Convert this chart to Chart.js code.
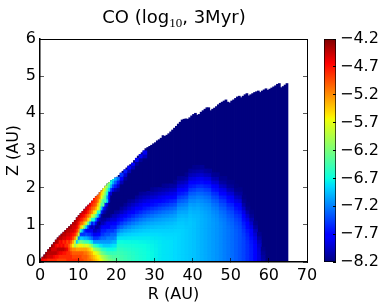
<!DOCTYPE html>
<html>
<head>
<meta charset="utf-8">
<style>
  html, body { margin: 0; padding: 0; background: #fff; overflow: hidden; }
  #wrap { position: relative; width: 382px; height: 308px; }
  #mapCanvas { position: absolute; left: 0; top: 0; }
  #barCanvas { position: absolute; left: 312px; top: 0; }
  #title {
    position: absolute; left: 0; top: 7px; width: 348px; text-align: center;
    font: 18px/20px "DejaVu Sans"; color: #000;
  }
  #title sub {
    font: 13px/13px "Liberation Serif"; vertical-align: baseline;
    position: relative; top: 4px;
  }
</style>
</head>
<body>
<div id="wrap">
  <canvas id="mapCanvas" width="382" height="308"></canvas>
  <canvas id="barCanvas" width="70" height="308"></canvas>
  <div id="title">CO (log<sub>10</sub>, 3Myr)</div>
</div>
<script src="https://cdn.jsdelivr.net/npm/chart.js@4"></script>
<script>
// axis ticks
const rTicks = [0, 10, 20, 30, 40, 50, 60, 70];
const zTicks = [0, 1, 2, 3, 4, 5, 6];
const colorbarTicks = [-8.2, -7.7, -7.2, -6.7, -6.2, -5.7, -5.2, -4.7, -4.2];

// top of the filled disc (AU), one height per 0.5 AU column from R = 0 to 65
const discTop = [
  0.07, 0.13, 0.19, 0.26, 0.33, 0.39, 0.46, 0.52, 0.59, 0.65,
  0.70, 0.75, 0.80, 0.85, 0.90, 0.95, 1.00, 1.06, 1.12, 1.19,
  1.25, 1.31, 1.36, 1.42, 1.48, 1.53, 1.58, 1.64, 1.71, 1.76,
  1.80, 1.87, 1.92, 1.98, 2.04, 2.10, 2.14, 2.19, 2.22, 2.26,
  2.28, 2.33, 2.39, 2.44, 2.48, 2.53, 2.58, 2.62, 2.66, 2.73,
  2.79, 2.85, 2.89, 2.94, 2.99, 3.05, 3.08, 3.11, 3.14, 3.18,
  3.21, 3.26, 3.29, 3.33, 3.40, 3.38, 3.41, 3.45, 3.50, 3.55,
  3.60, 3.65, 3.71, 3.76, 3.82, 3.84, 3.85, 3.84, 3.88, 3.93,
  3.97, 4.00, 3.95, 3.97, 4.03, 4.07, 4.11, 4.15, 4.15, 4.07,
  4.11, 4.14, 4.18, 4.23, 4.27, 4.30, 4.33, 4.36, 4.30, 4.28,
  4.33, 4.36, 4.40, 4.44, 4.46, 4.42, 4.46, 4.50, 4.53, 4.47,
  4.50, 4.53, 4.56, 4.58, 4.60, 4.56, 4.60, 4.63, 4.66, 4.62,
  4.65, 4.68, 4.71, 4.74, 4.78, 4.80, 4.69, 4.72, 4.76, 4.80
];

// log10 CO for R = 0 to 20, columns 0.5 AU wide, each listed upward from z = 0 in 0.1 AU cells
const innerColumns = [
  [-4.5],
  [-4.6, -4.4],
  [-4.7, -4.3],
  [-4.7, -4.4, -4.3],
  [-4.8, -4.5, -4.4, -4.3],
  [-4.8, -4.5, -4.4, -4.3],
  [-4.8, -4.5, -4.4, -4.5, -4.3],
  [-4.8, -4.6, -4.4, -4.5, -4.4, -4.3],
  [-4.8, -4.7, -4.4, -4.5, -4.6, -4.35],
  [-4.9, -4.7, -4.5, -4.4, -4.7, -4.4, -4.3],
  [-4.9, -4.8, -4.6, -4.4, -4.6, -4.7, -4.4, -4.3],
  [-4.9, -4.8, -4.6, -4.4, -4.7, -4.6, -4.4, -4.3],
  [-4.9, -4.8, -4.7, -4.4, -4.6, -4.8, -4.5, -4.4, -4.3],
  [-4.9, -4.8, -4.7, -4.5, -4.8, -4.7, -4.5, -4.4, -4.3],
  [-4.8, -4.8, -4.8, -4.6, -4.8, -4.9, -4.6, -4.5, -4.4, -4.3],
  [-4.8, -4.8, -4.8, -4.9, -5.0, -4.8, -4.6, -4.5, -4.4, -4.3],
  [-4.8, -4.8, -4.9, -5.1, -5.3, -5.0, -4.7, -4.6, -4.5, -4.4, -4.35],
  [-4.8, -4.9, -5.0, -5.2, -5.6, -5.3, -4.9, -4.7, -4.5, -4.5, -4.4, -4.3],
  [-4.8, -4.9, -5.0, -5.2, -6.0, -5.8, -5.2, -4.8, -4.6, -4.5, -4.4, -4.3],
  [-4.8, -4.9, -5.0, -5.3, -5.8, -6.9, -5.9, -5.1, -4.8, -4.6, -4.5, -4.4, -4.3],
  [-4.8, -4.9, -5.0, -5.3, -5.7, -6.4, -7.2, -5.9, -5.2, -4.9, -4.7, -4.5, -4.4, -4.3],
  [-4.9, -4.9, -5.0, -5.3, -5.6, -6.2, -6.9, -7.5, -6.5, -5.4, -5.0, -4.7, -4.5, -4.4],
  [-4.9, -5.0, -5.0, -5.3, -5.7, -6.3, -6.9, -7.5, -7.0, -5.7, -5.1, -4.8, -4.6, -4.5, -4.4],
  [-5.0, -5.0, -5.1, -5.3, -5.8, -6.4, -7.0, -7.5, -7.5, -6.3, -5.4, -5.0, -4.7, -4.5, -4.4],
  [-5.0, -5.0, -5.1, -5.3, -5.7, -6.5, -7.0, -7.4, -7.7, -6.9, -5.8, -5.1, -4.9, -4.6, -4.5, -4.4],
  [-5.1, -5.1, -5.2, -5.4, -5.8, -6.5, -7.1, -7.5, -7.8, -7.5, -6.4, -5.5, -5.1, -4.8, -4.6, -4.5],
  [-5.1, -5.2, -5.3, -5.5, -6.0, -6.7, -7.2, -7.5, -7.8, -7.9, -7.1, -6.0, -5.3, -5.0, -4.8, -4.6, -4.5],
  [-5.2, -5.3, -5.4, -5.7, -6.2, -6.8, -7.3, -7.6, -7.8, -8.0, -7.6, -6.6, -5.8, -5.2, -5.0, -4.8, -4.7, -4.6],
  [-5.3, -5.4, -5.6, -6.0, -6.5, -7.1, -7.5, -7.8, -8.0, -7.9, -7.4, -6.7, -6.0, -5.5, -5.1, -4.9, -4.8, -4.7],
  [-5.4, -5.5, -5.7, -6.1, -6.6, -7.1, -7.5, -7.8, -8.0, -8.1, -7.8, -7.2, -6.4, -5.7, -5.3, -5.0, -4.9, -4.9],
  [-5.5, -5.6, -5.8, -6.2, -6.7, -7.1, -7.5, -7.7, -7.9, -8.1, -8.1, -7.7, -6.9, -6.6, -5.6, -5.4, -5.1, -5.0, -4.9],
  [-5.6, -5.7, -6.0, -6.3, -6.8, -7.1, -7.4, -7.7, -7.9, -8.0, -8.2, -8.0, -7.5, -6.6, -6.0, -5.8, -5.5, -5.2, -5.1, -5.0],
  [-5.7, -5.9, -6.2, -6.5, -6.8, -7.1, -7.3, -7.5, -7.6, -7.8, -8.0, -8.1, -8.1, -7.6, -6.9, -6.4, -6.1, -5.7, -5.5, -5.3],
  [-5.9, -6.0, -6.3, -6.6, -6.9, -7.1, -7.3, -7.5, -7.6, -7.7, -8.0, -8.1, -8.2, -8.0, -7.6, -6.3, -6.5, -6.1, -5.8, -5.6, -5.5],
  [-6.0, -6.1, -6.4, -6.6, -6.9, -7.1, -7.3, -7.4, -7.6, -7.7, -7.9, -8.1, -8.2, -8.1, -7.9, -7.6, -6.4, -6.4, -6.2, -6.0, -5.8],
  [-6.1, -6.2, -6.5, -6.7, -6.9, -7.1, -7.2, -7.4, -7.5, -7.7, -7.8, -8.0, -8.2, -8.2, -8.1, -7.9, -6.9, -7.1, -6.7, -6.4, -6.1, -6.0],
  [-6.2, -6.3, -6.5, -6.7, -6.9, -7.1, -7.2, -7.4, -7.5, -7.7, -7.8, -8.0, -8.2, -8.2, -8.2, -8.2, -7.9, -7.7, -7.8, -6.9, -6.5, -6.1],
  [-6.25, -6.35, -6.5, -6.7, -6.85, -7.05, -7.2, -7.3, -7.5, -7.6, -7.8, -7.9, -8.1, -8.2, -8.2, -8.2, -8.2, -8.2, -7.9, -7.5, -7.0, -6.7, -6.4],
  [-6.3, -6.4, -6.5, -6.7, -6.8, -7.0, -7.2, -7.3, -7.5, -7.6, -7.7, -7.9, -8.0, -8.2, -8.2, -8.2, -8.2, -8.2, -8.2, -7.8, -7.4, -7.0, -6.7],
  [-6.35, -6.4, -6.5, -6.65, -6.8, -7.0, -7.15, -7.3, -7.4, -7.6, -7.7, -7.9, -8.0, -8.1, -8.2, -8.2, -8.2, -8.2, -8.2, -8.0, -7.6, -7.3, -7.0]
];

// log10 CO for R = 20 to 59, columns 1 AU wide, same order; anything above a column stays at the floor value
const outerColumns = [
  [-6.40, -6.42, -6.46, -6.52, -6.60, -6.70, -6.82, -7.00, -7.20, -7.40, -7.60, -7.78, -7.92, -8.08, -8.2, -8.2, -8.2, -8.2, -8.2, -8.1, -7.9, -7.6, -7.3],
  [-6.44, -6.46, -6.50, -6.55, -6.62, -6.70, -6.80, -6.94, -7.10, -7.30, -7.48, -7.66, -7.82, -7.98, -8.10, -8.2, -8.2, -8.2, -8.2, -8.2, -8.2, -8.0, -7.7, -7.5],
  [-6.48, -6.50, -6.53, -6.58, -6.64, -6.71, -6.80, -6.90, -7.04, -7.20, -7.38, -7.56, -7.72, -7.88, -8.02, -8.12, -8.2, -8.2, -8.2, -8.2, -8.2, -8.2, -8.1, -7.9, -7.6],
  [-6.52, -6.54, -6.56, -6.60, -6.65, -6.71, -6.79, -6.88, -7.00, -7.14, -7.30, -7.47, -7.63, -7.79, -7.92, -8.03, -8.12, -8.2, -8.2, -8.2, -8.2, -8.2, -8.2, -8.2, -8.0, -7.7],
  [-6.56, -6.57, -6.59, -6.62, -6.66, -6.72, -6.78, -6.86, -6.96, -7.08, -7.23, -7.39, -7.55, -7.70, -7.84, -7.96, -8.08, -8.2, -8.2, -8.2, -8.2, -8.2, -8.2, -8.2, -8.2, -8.0, -7.7],
  [-6.60, -6.61, -6.62, -6.64, -6.68, -6.72, -6.78, -6.85, -6.94, -7.04, -7.17, -7.32, -7.47, -7.62, -7.76, -7.89, -8.00, -8.10, -8.2, -8.2, -8.2, -8.2, -8.2, -8.2, -8.2, -8.2, -8.1, -7.8],
  [-6.63, -6.64, -6.65, -6.66, -6.69, -6.73, -6.78, -6.84, -6.92, -7.01, -7.12, -7.25, -7.40, -7.55, -7.69, -7.82, -7.94, -8.04, -8.12, -8.2, -8.2, -8.2, -8.2, -8.2, -8.2, -8.2, -8.2, -8.1, -7.8],
  [-6.66, -6.66, -6.67, -6.68, -6.70, -6.74, -6.78, -6.83, -6.90, -6.98, -7.08, -7.20, -7.34, -7.48, -7.62, -7.76, -7.88, -7.99, -8.09, -8.2, -8.2, -8.2, -8.2, -8.2, -8.2, -8.2, -8.2, -8.2, -8.0, -7.8],
  [-6.70, -6.70, -6.70, -6.71, -6.72, -6.75, -6.78, -6.83, -6.89, -6.96, -7.05, -7.16, -7.29, -7.43, -7.57, -7.71, -7.84, -7.96, -8.07],
  [-6.72, -6.72, -6.72, -6.73, -6.74, -6.76, -6.79, -6.83, -6.88, -6.95, -7.03, -7.13, -7.25, -7.38, -7.52, -7.66, -7.79, -7.92, -8.03, -8.13],
  [-6.75, -6.75, -6.75, -6.75, -6.76, -6.77, -6.80, -6.83, -6.88, -6.94, -7.01, -7.10, -7.21, -7.34, -7.48, -7.62, -7.76, -7.89, -8.00, -8.10],
  [-6.78, -6.78, -6.78, -6.78, -6.78, -6.79, -6.81, -6.84, -6.88, -6.93, -7.00, -7.08, -7.18, -7.30, -7.43, -7.57, -7.71, -7.84, -7.96, -8.07],
  [-6.80, -6.80, -6.80, -6.80, -6.80, -6.81, -6.82, -6.85, -6.88, -6.93, -6.99, -7.06, -7.15, -7.26, -7.39, -7.53, -7.67, -7.80, -7.93, -8.04, -8.13],
  [-6.81, -6.81, -6.81, -6.81, -6.81, -6.81, -6.83, -6.85, -6.88, -6.92, -6.97, -7.04, -7.13, -7.23, -7.35, -7.49, -7.63, -7.76, -7.89, -8.01, -8.11],
  [-6.82, -6.82, -6.82, -6.82, -6.82, -6.82, -6.83, -6.85, -6.88, -6.91, -6.96, -7.02, -7.10, -7.20, -7.31, -7.44, -7.58, -7.72, -7.85, -7.97, -8.08],
  [-6.84, -6.84, -6.84, -6.84, -6.84, -6.84, -6.84, -6.85, -6.87, -6.90, -6.94, -7.00, -7.07, -7.16, -7.27, -7.40, -7.54, -7.68, -7.82, -7.95, -8.06, -8.14],
  [-6.86, -6.86, -6.86, -6.86, -6.86, -6.86, -6.86, -6.86, -6.87, -6.89, -6.91, -6.95, -7.00, -7.06, -7.14, -7.24, -7.36, -7.49, -7.63, -7.77, -7.90, -8.02, -8.12],
  [-6.88, -6.88, -6.88, -6.88, -6.88, -6.88, -6.88, -6.88, -6.88, -6.89, -6.91, -6.94, -6.98, -7.04, -7.12, -7.21, -7.32, -7.45, -7.59, -7.73, -7.87, -7.99, -8.10],
  [-6.90, -6.90, -6.90, -6.90, -6.90, -6.90, -6.90, -6.90, -6.90, -6.91, -6.93, -6.95, -6.99, -7.04, -7.10, -7.18, -7.28, -7.40, -7.53, -7.67, -7.81, -7.94, -8.06, -8.14],
  [-6.92, -6.92, -6.92, -6.92, -6.92, -6.92, -6.92, -6.92, -6.92, -6.92, -6.92, -6.93, -6.95, -6.98, -7.02, -7.08, -7.16, -7.25, -7.36, -7.49, -7.62, -7.76, -7.89, -8.01, -8.11],
  [-6.94, -6.94, -6.94, -6.94, -6.94, -6.94, -6.94, -6.94, -6.94, -6.94, -6.94, -6.95, -6.97, -7.00, -7.04, -7.09, -7.16, -7.24, -7.34, -7.46, -7.59, -7.73, -7.86, -7.98, -8.08, -8.15],
  [-6.97, -6.97, -6.97, -6.97, -6.97, -6.97, -6.97, -6.97, -6.97, -6.97, -6.97, -6.97, -6.98, -7.00, -7.03, -7.07, -7.13, -7.21, -7.30, -7.41, -7.54, -7.68, -7.82, -7.95, -8.06, -8.14],
  [-7.00, -7.00, -7.00, -7.00, -7.00, -7.00, -7.00, -7.00, -7.00, -7.00, -7.00, -7.00, -7.01, -7.03, -7.06, -7.10, -7.15, -7.22, -7.31, -7.41, -7.53, -7.66, -7.80, -7.93, -8.04, -8.12],
  [-7.03, -7.03, -7.03, -7.03, -7.03, -7.03, -7.03, -7.03, -7.03, -7.03, -7.03, -7.03, -7.04, -7.06, -7.09, -7.13, -7.19, -7.26, -7.35, -7.46, -7.58, -7.71, -7.85, -7.98, -8.09],
  [-7.06, -7.06, -7.06, -7.06, -7.06, -7.06, -7.06, -7.06, -7.06, -7.06, -7.06, -7.06, -7.07, -7.09, -7.12, -7.16, -7.22, -7.29, -7.38, -7.48, -7.60, -7.73, -7.87, -8.00, -8.11],
  [-7.09, -7.09, -7.09, -7.09, -7.09, -7.09, -7.09, -7.09, -7.09, -7.09, -7.09, -7.10, -7.12, -7.15, -7.19, -7.25, -7.32, -7.41, -7.51, -7.63, -7.76, -7.90, -8.02, -8.12],
  [-7.12, -7.12, -7.12, -7.12, -7.12, -7.12, -7.12, -7.12, -7.12, -7.12, -7.12, -7.13, -7.15, -7.18, -7.22, -7.28, -7.35, -7.44, -7.54, -7.66, -7.79, -7.92, -8.04, -8.13],
  [-7.16, -7.16, -7.16, -7.16, -7.16, -7.16, -7.16, -7.16, -7.16, -7.16, -7.17, -7.19, -7.22, -7.26, -7.32, -7.39, -7.47, -7.57, -7.69, -7.82, -7.95, -8.07, -8.15],
  [-7.20, -7.20, -7.20, -7.20, -7.20, -7.20, -7.20, -7.20, -7.20, -7.20, -7.21, -7.23, -7.26, -7.30, -7.35, -7.42, -7.50, -7.60, -7.72, -7.85, -7.98, -8.09, -8.15],
  [-7.24, -7.24, -7.24, -7.24, -7.24, -7.24, -7.24, -7.24, -7.24, -7.25, -7.27, -7.30, -7.34, -7.39, -7.46, -7.54, -7.64, -7.76, -7.88, -8.00, -8.10, -8.16],
  [-7.28, -7.28, -7.28, -7.28, -7.28, -7.28, -7.28, -7.28, -7.28, -7.29, -7.31, -7.34, -7.38, -7.43, -7.50, -7.58, -7.68, -7.79, -7.91, -8.03, -8.12, -8.17],
  [-7.33, -7.33, -7.33, -7.33, -7.33, -7.33, -7.33, -7.33, -7.34, -7.36, -7.39, -7.43, -7.48, -7.55, -7.63, -7.73, -7.84, -7.96, -8.07, -8.15, -8.18],
  [-7.38, -7.38, -7.38, -7.38, -7.38, -7.38, -7.38, -7.38, -7.39, -7.41, -7.44, -7.48, -7.53, -7.60, -7.68, -7.77, -7.88, -8.00, -8.10, -8.16],
  [-7.44, -7.44, -7.44, -7.44, -7.44, -7.44, -7.45, -7.47, -7.50, -7.54, -7.59, -7.66, -7.74, -7.84, -7.95, -8.06, -8.14, -8.18],
  [-7.52, -7.52, -7.52, -7.52, -7.52, -7.53, -7.55, -7.58, -7.62, -7.68, -7.75, -7.84, -7.94, -8.05, -8.14, -8.18],
  [-7.60, -7.60, -7.60, -7.60, -7.61, -7.63, -7.66, -7.70, -7.76, -7.84, -7.93, -8.03, -8.12, -8.17],
  [-7.72, -7.72, -7.72, -7.73, -7.75, -7.79, -7.84, -7.91, -7.99, -8.08, -8.15],
  [-7.88, -7.88, -7.89, -7.91, -7.95, -8.00, -8.07, -8.14],
  [-8.05, -8.08, -8.12, -8.16]
];

const colorFloor = -8.2;
const colorCeil = -4.2;
const cellHeight = 0.1;
const innerWidth_ = 0.5;
const outerWidth_ = 1;
const outerStart = 20;
const plotWidth = 267;
const rMax = 70;

// jet colormap break points: position, r, g, b
const jetStops = [
  [0, 0, 0, 127], [0.11, 0, 0, 255], [0.125, 0, 0, 255], [0.34, 0, 219, 255],
  [0.35, 0, 229, 246], [0.375, 10, 255, 224], [0.64, 241, 255, 7], [0.65, 252, 244, 0],
  [0.66, 255, 232, 0], [0.89, 255, 0, 0], [0.91, 232, 0, 0], [1, 127, 0, 0]
];

function jetColor(value) {
  const f = Math.min(1, Math.max(0, (value - colorFloor) / (colorCeil - colorFloor)));
  for (let i = 1; i < jetStops.length; i++) {
    const a = jetStops[i - 1];
    const b = jetStops[i];
    if (f <= b[0]) {
      const t = (f - a[0]) / (b[0] - a[0]);
      const c = [1, 2, 3].map(k => Math.round(a[k] + (b[k] - a[k]) * t));
      return `rgb(${c[0]},${c[1]},${c[2]})`;
    }
  }
  return "rgb(127,0,0)";
}

// height of the disc at a given R, read from discTop
function topAt(r) {
  return discTop[Math.min(discTop.length - 1, Math.floor(r * 2))];
}

// turn a list of columns into floating bars, cut off at the disc top
function columnsToCells(columns, startR, width) {
  const cells = [];
  columns.forEach((column, i) => {
    const r = startR + i * width;
    const top = topAt(r + width / 4);
    column.forEach((value, k) => {
      const low = k * cellHeight;
      if (low < top) {
        cells.push({
          x: r + width / 2,
          y: [low, Math.min(low + cellHeight, top)],
          v: value
        });
      }
    });
  });
  return cells;
}

const discCells = discTop.map((top, i) => ({
  x: i * innerWidth_ + innerWidth_ / 2,
  y: [0, top],
  v: colorFloor
}));

function cellDataset(cells, width) {
  return {
    data: cells,
    grouped: false,
    barThickness: (plotWidth / rMax) * width,
    inflateAmount: 0.4,
    borderWidth: 0,
    backgroundColor: ctx => jetColor(ctx.raw.v)
  };
}

const font = { family: "'DejaVu Sans'", size: 16 };
const tickGray = "rgba(0,0,0,0.65)";

function frameAxis(axis, position, ticks) {
  return {
    axis: axis,
    position: position,
    min: ticks[0],
    max: ticks[ticks.length - 1],
    afterBuildTicks: scale => {
      scale.ticks = ticks.map(v => ({ value: v }));
    },
    afterFit: scale => {
      if (axis === "x") {
        scale.height = 0;
      } else {
        scale.width = 0;
      }
    },
    ticks: { display: false },
    grid: { drawOnChartArea: false, tickLength: -4, tickColor: tickGray, z: 1 },
    border: { color: "#000", width: 1, z: 1 }
  };
}

new Chart(document.getElementById("mapCanvas"), {
  type: "bar",
  data: {
    datasets: [
      cellDataset(columnsToCells(innerColumns, 0, innerWidth_), innerWidth_),
      cellDataset(columnsToCells(outerColumns, outerStart, outerWidth_), outerWidth_),
      cellDataset(discCells, innerWidth_)
    ]
  },
  options: {
    responsive: false,
    animation: false,
    layout: { padding: { right: 75, top: 39, bottom: 0, left: 0 } },
    plugins: {
      legend: { display: false },
      tooltip: { enabled: false }
    },
    scales: {
      x: {
        type: "linear",
        position: "bottom",
        offset: false,
        min: 0,
        max: rMax,
        afterBuildTicks: scale => {
          scale.ticks = rTicks.map(v => ({ value: v }));
        },
        afterFit: scale => {
          scale.height = 46;
        },
        ticks: { font: font, color: "#000", padding: 8, maxRotation: 0 },
        grid: { offset: false, drawOnChartArea: false, tickLength: -4, tickColor: tickGray, z: 1 },
        border: { color: "#000", width: 1.5, z: 1 },
        title: { display: true, text: "R (AU)", font: font, color: "#000", padding: { top: 0, bottom: 4 } }
      },
      y: {
        type: "linear",
        position: "left",
        min: 0,
        max: 6,
        afterBuildTicks: scale => {
          scale.ticks = zTicks.map(v => ({ value: v }));
        },
        afterFit: scale => {
          scale.width = 40;
        },
        ticks: { font: font, color: "#000", padding: 8 },
        grid: { drawOnChartArea: false, tickLength: -4, tickColor: tickGray, z: 1 },
        border: { color: "#000", width: 1.5, z: 1 },
        title: { display: true, text: "Z (AU)", font: font, color: "#000", padding: { top: 4, bottom: 0 } }
      },
      xTop: frameAxis("x", "top", rTicks),
      yRight: frameAxis("y", "right", zTicks)
    }
  }
});

// colorbar: one floating bar filled with the jet gradient
new Chart(document.getElementById("barCanvas"), {
  type: "bar",
  data: {
    labels: ["CO"],
    datasets: [
      {
        data: [[colorFloor, colorCeil]],
        barPercentage: 1,
        categoryPercentage: 1,
        borderColor: "#000",
        borderWidth: 1,
        borderSkipped: false,
        backgroundColor: ctx => {
          const area = ctx.chart.chartArea;
          if (!area) {
            return "#000";
          }
          const gradient = ctx.chart.ctx.createLinearGradient(0, area.bottom, 0, area.top);
          jetStops.forEach(s => {
            gradient.addColorStop(s[0], `rgb(${s[1]},${s[2]},${s[3]})`);
          });
          return gradient;
        }
      }
    ]
  },
  options: {
    responsive: false,
    animation: false,
    layout: { padding: { left: 12, top: 39, bottom: 46, right: 0 } },
    plugins: { legend: { display: false }, tooltip: { enabled: false } },
    scales: {
      x: { display: false },
      y: {
        type: "linear",
        position: "right",
        min: colorFloor,
        max: colorCeil,
        afterBuildTicks: scale => {
          scale.ticks = colorbarTicks.map(v => ({ value: v }));
        },
        afterFit: scale => {
          scale.width = 46;
        },
        ticks: {
          font: font,
          color: "#000",
          padding: 7,
          callback: value => "−" + Math.abs(value).toFixed(1)
        },
        grid: { drawOnChartArea: false, tickLength: -3, tickColor: "#000", z: 1 },
        border: { display: false }
      }
    }
  }
});
</script>
</body>
</html>
